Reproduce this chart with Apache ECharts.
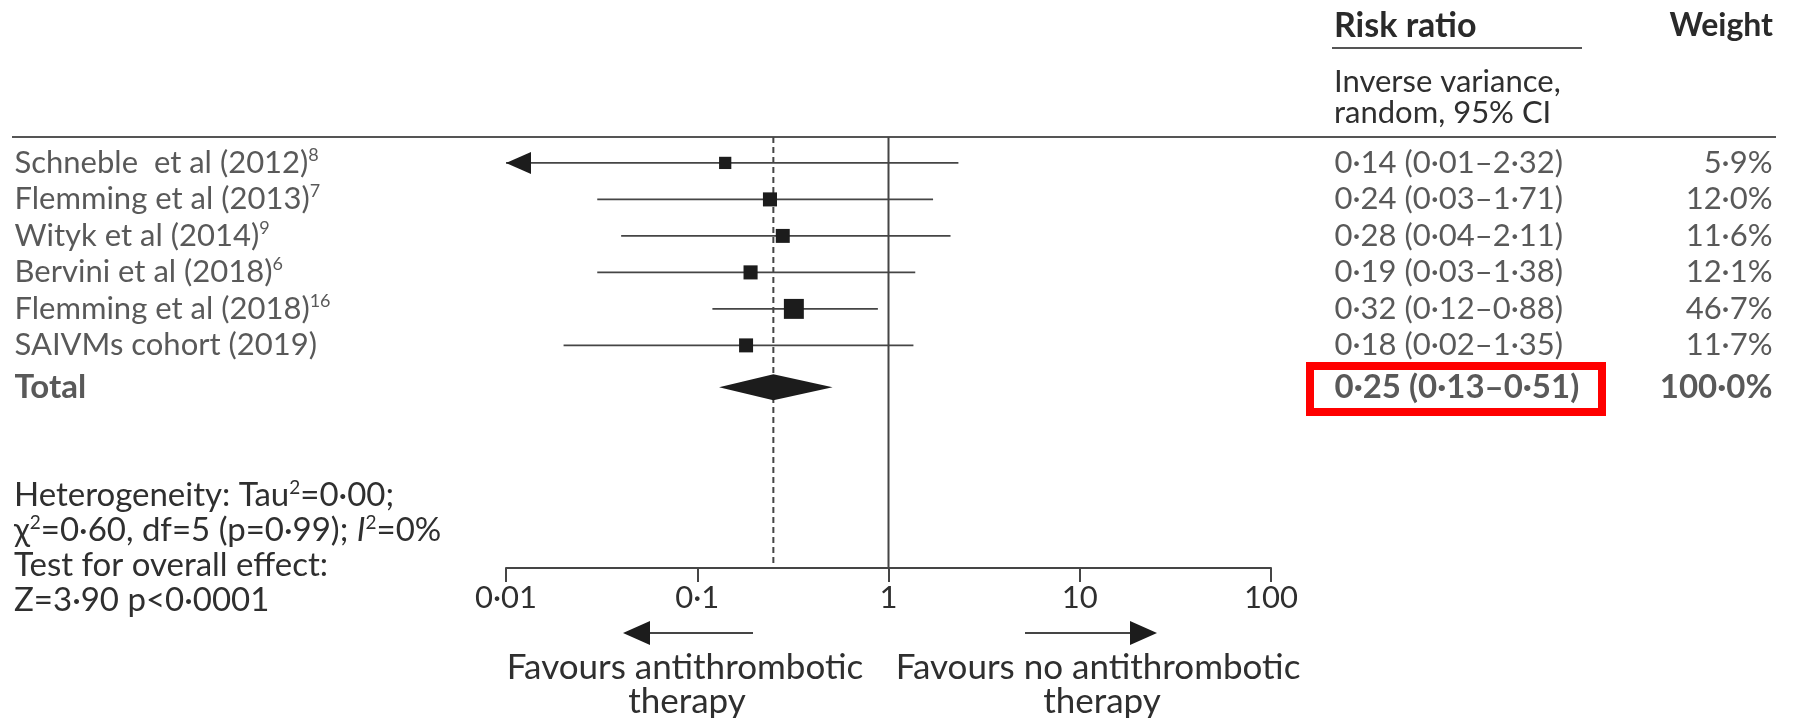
<!DOCTYPE html>
<html>
<head>
<meta charset="utf-8">
<title>Antithrombotic therapy forest plot</title>
<script src="https://cdn.jsdelivr.net/npm/echarts@6/dist/echarts.min.js"></script>
<style>
    html, body { margin: 0; padding: 0; background: #fff; }
    #forest-plot { width: 1802px; height: 718px; }
</style>
</head>
<body>
<div id="forest-plot"></div>
<script>
const studies = ['Schneble  et al (2012)', 'Flemming et al (2013)', 'Wityk et al (2014)',
    'Bervini et al (2018)', 'Flemming et al (2018)', 'SAIVMs cohort (2019)'];
const refs = ['8', '7', '9', '6', '16', ''];
const riskRatio = [0.14, 0.24, 0.28, 0.19, 0.32, 0.18];
const ciLow = [0.01, 0.03, 0.04, 0.03, 0.12, 0.02];
const ciHigh = [2.32, 1.71, 2.11, 1.38, 0.88, 1.35];
const weights = [5.9, 12.0, 11.6, 12.1, 46.7, 11.7];

const totalRR = 0.25;
const totalLow = 0.13;
const totalHigh = 0.51;
const totalWeight = 100.0;
const totalRow = 6.15;

const tickLabels = ['0·01', '0·1', '1', '10', '100'];
const axisMin = 0.01;
const axisMax = 100;

const FONT = 'Lato';
const TEXT = '#2f2f2f';
const LINE = '#454545';
const MARK = '#1c1c1c';

const dot = (v, d) => v.toFixed(d).replace('.', '·');
const ciText = (rr, lo, hi) => dot(rr, 2) + ' (' + dot(lo, 2) + '–' + dot(hi, 2) + ')';

let chart = echarts.init(document.getElementById('forest-plot'));

/* rows share one vertical scale in every grid */
function rowAxis(gridIndex) {
    return { type: 'value', gridIndex: gridIndex, min: -0.71, max: 11.1, inverse: true, show: false };
}
function colAxis(gridIndex) {
    return { type: 'value', gridIndex: gridIndex, min: 0, max: 1, show: false };
}

let baseLabel = {
    show: true,
    fontFamily: FONT,
    fontSize: 31,
    lineHeight: 34,
    color: TEXT,
    rich: {
        sup: { fontFamily: FONT, fontSize: 18, lineHeight: 22, verticalAlign: 'top', color: TEXT }
    }
};
let boldLabel = { fontWeight: 'bold', fontSize: 33 };

let option = {
    animation: false,
    grid: [
        { left: 506, top: 137, width: 765, height: 431 },
        { left: 14, top: 137, width: 400, height: 431 },
        { left: 1334, top: 137, width: 200, height: 431 },
        { left: 1573, top: 137, width: 200, height: 431 }
    ],
    xAxis: [
        {
            type: 'log',
            logBase: 10,
            gridIndex: 0,
            position: 'bottom',
            min: axisMin,
            max: axisMax,
            axisLine: { onZero: false, lineStyle: { color: LINE, width: 2 } },
            axisTick: { length: 14, lineStyle: { color: LINE, width: 2 } },
            splitLine: { show: false },
            axisLabel: {
                margin: 14,
                fontFamily: FONT,
                fontSize: 31,
                color: TEXT,
                formatter: function (value) {
                    return tickLabels[Math.round(Math.log10(value)) + 2];
                }
            }
        },
        colAxis(1), colAxis(2), colAxis(3)
    ],
    yAxis: [rowAxis(0), rowAxis(1), rowAxis(2), rowAxis(3)],
    series: [
        {
            /* line of no effect and pooled estimate */
            type: 'custom',
            xAxisIndex: 0,
            yAxisIndex: 0,
            silent: true,
            data: [[1, 0], [totalRR, 1]],
            renderItem: function (params, api) {
                let x = api.coord([api.value(0), 0])[0];
                let cs = params.coordSys;
                return {
                    type: 'line',
                    shape: { x1: x, y1: cs.y, x2: x, y2: cs.y + cs.height },
                    style: { stroke: LINE, lineWidth: 2, lineDash: api.value(1) ? [6, 4] : null }
                };
            }
        },
        {
            type: 'custom',
            xAxisIndex: 0,
            yAxisIndex: 0,
            silent: true,
            data: studies.map((s, i) => [riskRatio[i], ciLow[i], ciHigh[i], i, weights[i]]),
            renderItem: function (params, api) {
                let y = api.value(3);
                let mid = api.coord([api.value(0), y]);
                let lo = api.coord([api.value(1), y]);
                let hi = api.coord([api.value(2), y]);
                let s = 8 + 1.75 * Math.sqrt(api.value(4));
                let children = [
                    {
                        type: 'line',
                        shape: { x1: lo[0], y1: lo[1], x2: hi[0], y2: hi[1] },
                        style: { stroke: LINE, lineWidth: 1.6 }
                    },
                    {
                        type: 'rect',
                        shape: { x: mid[0] - s / 2, y: mid[1] - s / 2, width: s, height: s },
                        style: { fill: MARK }
                    }
                ];
                // interval runs off the scale: arrow head
                if (api.value(1) <= axisMin) {
                    children.push({
                        type: 'polygon',
                        shape: { points: [[lo[0], lo[1]], [lo[0] + 25, lo[1] - 11], [lo[0] + 25, lo[1] + 11]] },
                        style: { fill: MARK }
                    });
                }
                return { type: 'group', children: children };
            }
        },
        {
            type: 'custom',
            xAxisIndex: 0,
            yAxisIndex: 0,
            silent: true,
            data: [[totalRR, totalLow, totalHigh, totalRow]],
            renderItem: function (params, api) {
                let y = api.value(3);
                let mid = api.coord([api.value(0), y]);
                let lo = api.coord([api.value(1), y]);
                let hi = api.coord([api.value(2), y]);
                return {
                    type: 'polygon',
                    shape: { points: [lo, [mid[0], mid[1] - 13], hi, [mid[0], mid[1] + 13]] },
                    style: { fill: MARK }
                };
            }
        },
        {
            /* study names */
            type: 'scatter',
            xAxisIndex: 1,
            yAxisIndex: 1,
            silent: true,
            symbolSize: 1,
            itemStyle: { color: 'rgba(0,0,0,0)' },
            data: studies.map((s, i) => ({ value: [0, i] }))
                .concat([{ value: [0, totalRow], label: boldLabel }]),
            label: Object.assign({}, baseLabel, {
                position: 'right',
                distance: 0,
                formatter: function (p) {
                    let i = p.dataIndex;
                    if (i >= studies.length) return 'Total';
                    return studies[i] + (refs[i] ? '{sup|' + refs[i] + '}' : '');
                }
            })
        },
        {
            /* risk ratio column */
            type: 'scatter',
            xAxisIndex: 2,
            yAxisIndex: 2,
            silent: true,
            symbolSize: 1,
            itemStyle: { color: 'rgba(0,0,0,0)' },
            data: studies.map((s, i) => ({ value: [0, i] }))
                .concat([{ value: [0, totalRow], label: boldLabel }]),
            label: Object.assign({}, baseLabel, {
                position: 'right',
                distance: 0,
                formatter: function (p) {
                    let i = p.dataIndex;
                    if (i >= studies.length) return ciText(totalRR, totalLow, totalHigh);
                    return ciText(riskRatio[i], ciLow[i], ciHigh[i]);
                }
            })
        },
        {
            /* weight column */
            type: 'scatter',
            xAxisIndex: 3,
            yAxisIndex: 3,
            silent: true,
            symbolSize: 1,
            itemStyle: { color: 'rgba(0,0,0,0)' },
            data: studies.map((s, i) => ({ value: [1, i] }))
                .concat([{ value: [1, totalRow], label: boldLabel }]),
            label: Object.assign({}, baseLabel, {
                position: 'left',
                distance: 0,
                formatter: function (p) {
                    let i = p.dataIndex;
                    if (i >= studies.length) return dot(totalWeight, 1) + '%';
                    return dot(weights[i], 1) + '%';
                }
            })
        }
    ],
    graphic: [
        { type: 'text', style: { text: 'Risk ratio', x: 1334, y: 26, font: 'bold 34px Lato', fill: '#2a2a2a', align: 'left', verticalAlign: 'middle' } },
        { type: 'text', style: { text: 'Weight', x: 1773, y: 26, font: 'bold 32px Lato', fill: '#2a2a2a', align: 'right', verticalAlign: 'middle' } },
        { type: 'line', shape: { x1: 1332, y1: 48, x2: 1582, y2: 48 }, style: { stroke: '#555', lineWidth: 2 } },
        { type: 'text', style: { text: 'Inverse variance,', x: 1334, y: 82, font: '31px Lato', fill: TEXT, align: 'left', verticalAlign: 'middle' } },
        { type: 'text', style: { text: 'random, 95% CI', x: 1334, y: 113, font: '31px Lato', fill: TEXT, align: 'left', verticalAlign: 'middle' } },
        { type: 'line', shape: { x1: 12, y1: 137, x2: 1776, y2: 137 }, style: { stroke: '#555', lineWidth: 2 } },
        { type: 'rect', shape: { x: 1310, y: 366, width: 292, height: 46 }, style: { stroke: '#ff0000', fill: null, lineWidth: 8 } },

        {
            type: 'text',
            style: {
                text: 'Heterogeneity: Tau{sup|2}=0·00;', x: 14, y: 495, font: '33px Lato', fill: TEXT, verticalAlign: 'middle',
                rich: { sup: { font: '19px Lato', fill: TEXT, lineHeight: 22, verticalAlign: 'top' } }
            }
        },
        {
            type: 'text',
            style: {
                text: 'χ{sup|2}=0·60, df=5 (p=0·99); {it|I}{sup|2}=0%', x: 14, y: 530, font: '33px Lato', fill: TEXT, verticalAlign: 'middle',
                rich: {
                    sup: { font: '19px Lato', fill: TEXT, lineHeight: 22, verticalAlign: 'top' },
                    it: { font: 'italic 33px Lato', fill: TEXT }
                }
            }
        },
        { type: 'text', style: { text: 'Test for overall effect:', x: 14, y: 565, font: '33px Lato', fill: TEXT, verticalAlign: 'middle' } },
        { type: 'text', style: { text: 'Z=3·90 p<0·0001', x: 14, y: 600, font: '33px Lato', fill: TEXT, verticalAlign: 'middle' } },

        { type: 'line', shape: { x1: 753, y1: 633, x2: 646, y2: 633 }, style: { stroke: LINE, lineWidth: 2 } },
        { type: 'polygon', shape: { points: [[623, 633], [650, 621], [650, 645]] }, style: { fill: MARK } },
        { type: 'line', shape: { x1: 1025, y1: 633, x2: 1134, y2: 633 }, style: { stroke: LINE, lineWidth: 2 } },
        { type: 'polygon', shape: { points: [[1157, 633], [1130, 621], [1130, 645]] }, style: { fill: MARK } },

        { type: 'text', style: { text: 'Favours antithrombotic', x: 685, y: 668, font: '35px Lato', fill: TEXT, align: 'center', verticalAlign: 'middle' } },
        { type: 'text', style: { text: 'therapy', x: 687, y: 702, font: '35px Lato', fill: TEXT, align: 'center', verticalAlign: 'middle' } },
        { type: 'text', style: { text: 'Favours no antithrombotic', x: 1098, y: 668, font: '35px Lato', fill: TEXT, align: 'center', verticalAlign: 'middle' } },
        { type: 'text', style: { text: 'therapy', x: 1102, y: 702, font: '35px Lato', fill: TEXT, align: 'center', verticalAlign: 'middle' } }
    ]
};

chart.setOption(option);

window.addEventListener('resize', function () {
    chart.resize();
});
</script>
</body>
</html>
